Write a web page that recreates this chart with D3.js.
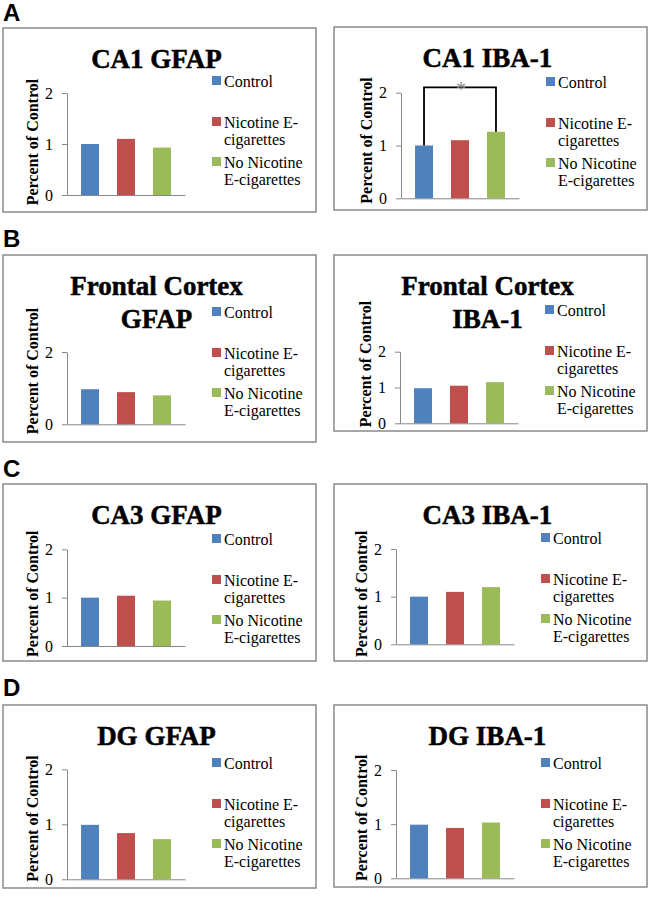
<!DOCTYPE html>
<html>
<head>
<meta charset="utf-8">
<script src="https://cdn.jsdelivr.net/npm/d3@7"></script>
<style>
  body { margin: 0; background: #fff; }
  svg { display: block; }
</style>
</head>
<body>
<script>
const width = 648
const height = 897

// data
const categories = ["Control", "Nicotine E-cigarettes", "No Nicotine E-cigarettes"]
const legendLines = [["Control"], ["Nicotine E-", "cigarettes"], ["No Nicotine", "E-cigarettes"]]
const colors = ["#4F81BD", "#C0504D", "#9BBB59"]

const titles = [
  ["CA1 GFAP"], ["CA1 IBA-1"],
  ["Frontal Cortex", "GFAP"], ["Frontal Cortex", "IBA-1"],
  ["CA3 GFAP"], ["CA3 IBA-1"],
  ["DG GFAP"], ["DG IBA-1"]
]
const ca1Gfap = [1.0, 1.10, 0.93]
const ca1Iba = [1.0, 1.10, 1.26]
const fcGfap = [0.97, 0.89, 0.80]
const fcIba = [0.98, 1.05, 1.15]
const ca3Gfap = [1.0, 1.04, 0.94]
const ca3Iba = [1.0, 1.10, 1.20]
const dgGfap = [0.99, 0.84, 0.73]
const dgIba = [0.99, 0.93, 1.03]
const values = [ca1Gfap, ca1Iba, fcGfap, fcIba, ca3Gfap, ca3Iba, dgGfap, dgIba]

const yTicks = [[0, 1, 2], [0, 1, 2], [0, 2], [0, 1, 2], [0, 1, 2], [0, 1, 2], [0, 1, 2], [0, 1, 2]]
const yLabel = "Percent of Control"
const panelLetters = ["A", "B", "C", "D"]
// significance bracket in CA1 IBA-1: between control and no nicotine
const sigPairs = [null, [0, 2], null, null, null, null, null, null]
const sigLevel = 2.1

// layout (box / plot placement per panel)
const layout = [
  { x: 3,   y: 28,  h: 184, ax: 67,  y2: 93,    y0: 195,   ly: 81 },
  { x: 334, y: 27,  h: 183, ax: 401, y2: 92.7,  y0: 198.3, ly: 82 },
  { x: 3,   y: 255, h: 187, ax: 67,  y2: 352,   y0: 424.3, ly: 312 },
  { x: 334, y: 255, h: 176, ax: 400, y2: 351.7, y0: 423.3, ly: 310 },
  { x: 3,   y: 484, h: 177, ax: 67,  y2: 549.3, y0: 646,   ly: 539 },
  { x: 334, y: 484, h: 177, ax: 396, y2: 549,   y0: 644.3, ly: 538 },
  { x: 3,   y: 705, h: 183, ax: 67,  y2: 769.3, y0: 879.3, ly: 763 },
  { x: 334, y: 705, h: 182, ax: 396, y2: 770,   y0: 878.3, ly: 763 }
]
const letterY = [20.5, 247, 477, 696]
const boxW = 313
const plotW = 118
const legendDy = [0, 41, 81]
const serif = "'Liberation Serif', 'Times New Roman', serif"
const gray = "#878787"

const svg = d3.select("body").append("svg").attr("width", width).attr("height", height)
svg.append("rect").attr("width", width).attr("height", height).attr("fill", "#fff")

panelLetters.forEach((l, i) => {
  svg.append("text").text(l)
    .attr("x", 3).attr("y", letterY[i])
    .style("font-family", "'Liberation Sans', Arial, sans-serif")
    .style("font-weight", "bold").style("font-size", "24px")
})

values.forEach((vals, i) => {
  const L = layout[i]
  const g = svg.append("g")

  g.append("rect")
    .attr("x", L.x).attr("y", L.y).attr("width", boxW).attr("height", L.h)
    .attr("fill", "#fff").attr("stroke", "#8a8a8a").attr("stroke-width", 1.5)

  // title
  const tx = L.x + boxW / 2 - 3
  titles[i].forEach((t, k) => {
    g.append("text").text(t)
      .attr("x", tx).attr("y", L.y + 39.5 + k * 33)
      .attr("text-anchor", "middle")
      .attr("stroke", "#000").attr("stroke-width", 0.5)
      .style("font-family", serif).style("font-weight", "bold").style("font-size", "27px")
  })

  const x = d3.scaleBand().domain(categories).range([L.ax, L.ax + plotW])
    .paddingInner(0.5).paddingOuter(0.39)
  const y = d3.scaleLinear().domain([0, 2]).range([L.y0, L.y2])

  const yAxis = g.append("g").attr("transform", `translate(${L.ax},0)`)
    .call(d3.axisLeft(y).tickValues(yTicks[i]).tickFormat(d3.format("d"))
      .tickSize(5).tickSizeOuter(0).tickPadding(9))
  yAxis.attr("font-family", null)
  yAxis.select(".domain").attr("stroke", gray)
  yAxis.selectAll(".tick line").attr("stroke", gray)
  yAxis.selectAll(".tick text").style("font-family", serif).style("font-size", "16px").attr("fill", "#000")

  const xAxis = g.append("g").attr("transform", `translate(0,${L.y0})`)
    .call(d3.axisBottom(x).tickSize(0).tickSizeOuter(0).tickFormat(""))
  xAxis.select(".domain").attr("stroke", gray)

  g.selectAll(".bar").data(vals).join("rect")
    .attr("x", (d, k) => x(categories[k]))
    .attr("width", x.bandwidth())
    .attr("y", d => y(d))
    .attr("height", d => y(0) - y(d))
    .attr("fill", (d, k) => colors[k])

  // y label
  const lx = L.ax - 35
  const lyc = L.y + L.h * 0.62
  g.append("text").text(yLabel)
    .attr("transform", `translate(${lx},${lyc}) rotate(-90)`)
    .attr("text-anchor", "middle").attr("dy", "0.35em")
    .style("font-family", serif).style("font-weight", "bold").style("font-size", "16px")

  // legend
  const legX = L.ax + 145
  categories.forEach((c, k) => {
    const yy = L.ly + legendDy[k]
    g.append("rect").attr("x", legX).attr("y", yy - 5).attr("width", 9).attr("height", 9).attr("fill", colors[k])
    legendLines[k].forEach((line, m) => {
      g.append("text").text(line)
        .attr("x", legX + 12).attr("y", yy + m * 17.5).attr("dy", "0.35em")
        .style("font-family", serif).style("font-size", "16px")
    })
  })

  // significance bracket
  const sp = sigPairs[i]
  if (sp) {
    const xa = x(categories[sp[0]]) + x.bandwidth() / 2
    const xb = x(categories[sp[1]]) + x.bandwidth() / 2
    const top = y(sigLevel)
    g.append("path")
      .attr("d", d3.line()([[xa, y(vals[sp[0]])], [xa, top], [xb, top], [xb, y(vals[sp[1]])]]))
      .attr("fill", "none").attr("stroke", "#000").attr("stroke-width", 1.8)
    g.append("text").text("*")
      .attr("x", (xa + xb) / 2 + 1).attr("y", top + 9)
      .attr("text-anchor", "middle")
      .style("font-family", serif).style("font-size", "20px").attr("fill", "#888")
  }
})
</script>
</body>
</html>
